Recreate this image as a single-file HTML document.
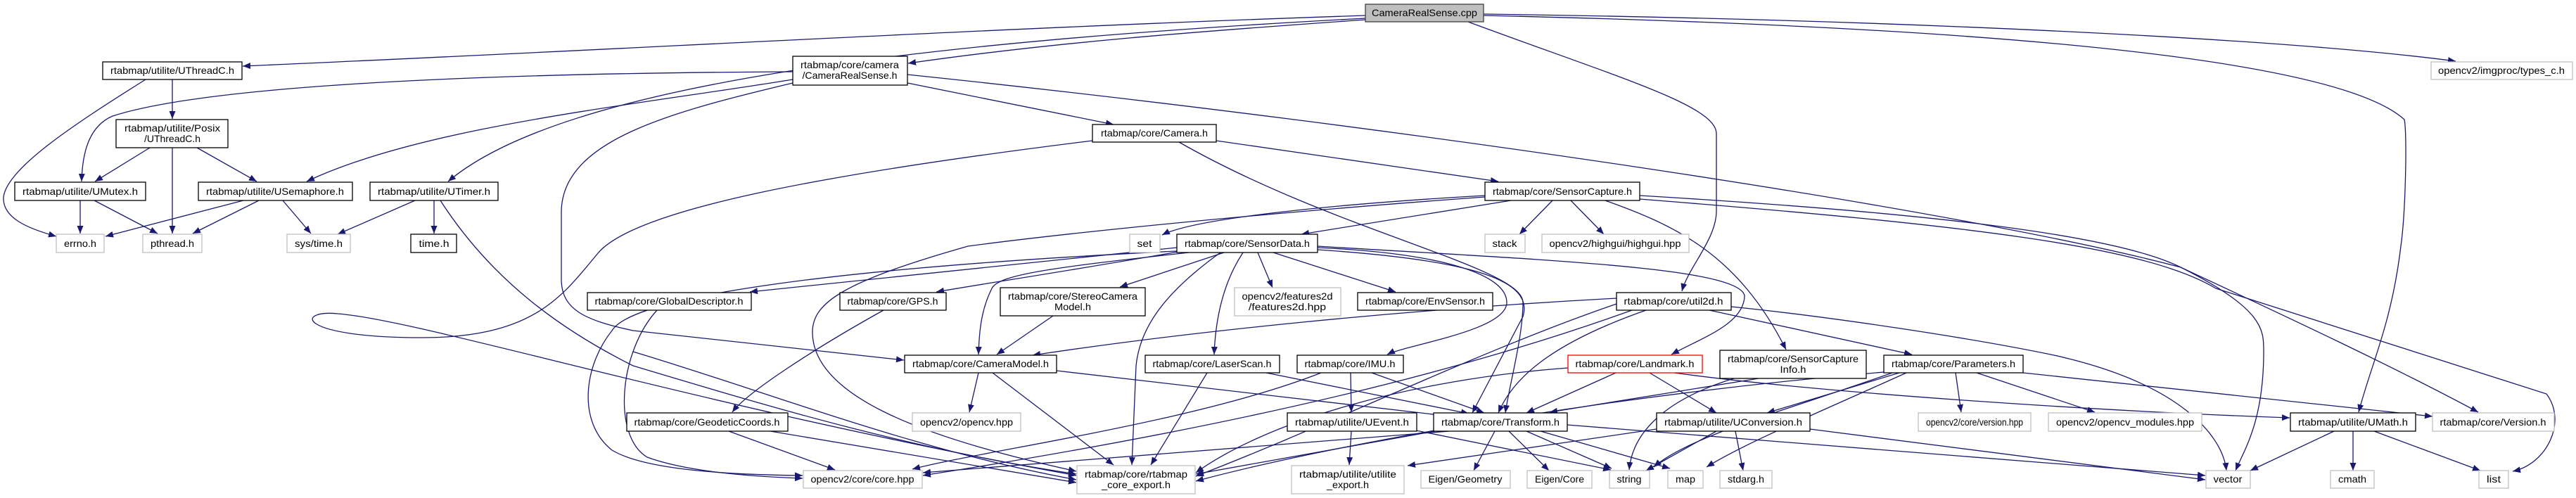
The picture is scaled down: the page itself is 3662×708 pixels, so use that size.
<!DOCTYPE html>
<html><head><meta charset="utf-8"><style>
html,body{margin:0;padding:0;background:#fff;}
svg{display:block;}
text{font-family:"Liberation Sans",sans-serif;font-size:14px;fill:#000;text-anchor:middle;}
.e{fill:none;stroke:#191970;stroke-width:1.3;marker-end:url(#a);}
.b{fill:#fff;stroke:#000;stroke-width:1.3;}
.g{fill:#fff;stroke:#bfbfbf;stroke-width:1.3;}
</style></head><body>
<svg width="3662" height="708" viewBox="0 0 3662 708" xmlns="http://www.w3.org/2000/svg">
<defs><marker id="a" markerWidth="12" markerHeight="10" refX="11" refY="4.5" orient="auto" markerUnits="userSpaceOnUse"><path d="M0,0 L11,4.5 L0,9 z" fill="#191970"/></marker></defs>
<g>
<path class="e" d="M1941,22 C1400,40 900,70 345,94"/>
<path class="e" d="M1941,28 C1700,45 1500,60 1291,90"/>
<path class="e" d="M1941,26 C1300,60 800,120 637,258"/>
<path class="e" d="M2087,31 C2300,110 2440,150 2440,190 L2440,300 C2440,340 2400,380 2391,414"/>
<path class="e" d="M2109,20 C2700,28 3250,55 3491,87"/>
<path class="e" d="M2109,22 C2900,40 3330,90 3418,170 C3422,190 3420,300 3413,350 C3400,460 3370,520 3353,586"/>
<path class="e" d="M1127,102 C700,104 300,120 160,165 C125,180 117,220 116,258"/>
<path class="e" d="M1127,113 C900,150 600,180 436,258"/>
<path class="e" d="M1290,118 L1583,177"/>
<path class="e" d="M1127,118 C950,160 800,200 798,300 L798,400 C800,440 830,455 900,470 L1285,512"/>
<path class="e" d="M1553,200 C1150,250 900,300 850,360 C800,420 760,480 600,480 C420,480 420,440 480,446 C600,455 1000,580 1530,676"/>
<path class="e" d="M1729,200 L2130,258"/>
<path class="e" d="M1676,202 C1900,330 2165,380 2165,430 C2165,480 2145,550 2140,587"/>
<path class="e" d="M2111,278 C1900,290 1700,310 1652,334"/>
<path class="e" d="M2148,285 L1850,333"/>
<path class="e" d="M2207,285 L2160,333"/>
<path class="e" d="M2233,285 L2280,333"/>
<path class="e" d="M2282,285 C2380,320 2470,360 2539,497"/>
<path class="e" d="M2461,436 C2600,450 2800,480 2920,505 C3100,545 3160,620 3165,669"/>
<path class="e" d="M2331,278 C2700,300 3000,330 3100,380 C3220,440 3218,470 3218,500 C3218,600 3190,640 3178,669"/>
<path class="e" d="M1290,106 C2000,180 2800,300 3100,380 C3250,450 3400,520 3523,586"/>
<path class="e" d="M2331,283 C2800,320 3050,350 3150,410 L3620,560 C3650,600 3620,660 3572,670"/>
<path class="e" d="M2111,280 C1700,310 1450,340 1376,350 C1200,400 1155,430 1155,472 C1155,560 1300,620 1530,670"/>
<path class="e" d="M1673,352 C1400,380 1200,400 1066,415"/>
<path class="e" d="M1680,357 C1550,380 1420,400 1331,415"/>
<path class="e" d="M1740,359 L1592,408"/>
<path class="e" d="M1690,359 C1500,380 1420,390 1410,410 C1395,440 1392,470 1391,504"/>
<path class="e" d="M1497,449 L1417,504"/>
<path class="e" d="M1788,359 L1809,409"/>
<path class="e" d="M1810,359 L1984,415"/>
<path class="e" d="M1767,359 C1740,400 1728,450 1726,504"/>
<path class="e" d="M1873,352 C2050,360 2142,390 2142,430 C2142,470 2000,490 1972,504"/>
<path class="e" d="M1873,355 C2100,370 2180,400 2165,450 L2093,587"/>
<path class="e" d="M1873,350 C2200,370 2470,380 2480,420 C2480,460 2420,480 2376,504"/>
<path class="e" d="M1735,359 C1650,420 1620,470 1615,520 L1609,661"/>
<path class="e" d="M1673,357 C1200,380 900,420 870,470 C830,520 820,600 870,640 C920,670 1050,675 1141,676"/>
<path class="e" d="M934,441 C880,500 870,620 920,650 C980,672 1080,678 1141,680"/>
<path class="e" d="M900,500 C1100,560 1300,640 1530,682"/>
<path class="e" d="M1256,441 C1150,500 1060,560 1041,586"/>
<path class="e" d="M1036,613 L1187,668"/>
<path class="e" d="M1095,613 L1530,686"/>
<path class="e" d="M1391,530 L1378,586"/>
<path class="e" d="M1411,530 L1583,661"/>
<path class="e" d="M1502,527 L2063,592"/>
<path class="e" d="M1716,530 L1636,661"/>
<path class="e" d="M1800,530 L2088,588"/>
<path class="e" d="M1920,530 L1921,586"/>
<path class="e" d="M1950,530 L2110,587"/>
<path class="e" d="M1878,530 C1700,600 1400,640 1297,667"/>
<path class="e" d="M2298,424 C2000,440 1700,470 1468,505"/>
<path class="e" d="M2340,441 C2200,490 2150,540 2130,587"/>
<path class="e" d="M2320,441 C2100,520 1800,600 1312,676"/>
<path class="e" d="M2430,441 L2718,504"/>
<path class="e" d="M2298,432 C2100,500 1900,600 1700,677"/>
<path class="e" d="M2297,530 L2170,587"/>
<path class="e" d="M2345,530 L2440,587"/>
<path class="e" d="M2229,523 C2000,540 1800,600 1700,672"/>
<path class="e" d="M2380,530 C2600,560 3000,585 3255,594"/>
<path class="e" d="M2500,538 L2203,586"/>
<path class="e" d="M2465,538 C2360,570 2320,620 2316,668"/>
<path class="e" d="M2700,530 L2512,587"/>
<path class="e" d="M2690,530 C2550,580 2400,620 2351,664"/>
<path class="e" d="M2710,530 C2600,580 2480,630 2426,664"/>
<path class="e" d="M2780,530 L2788,586"/>
<path class="e" d="M2810,530 L2978,586"/>
<path class="e" d="M2876,530 L3458,592"/>
<path class="e" d="M2690,528 C2300,560 1900,630 1700,684"/>
<path class="e" d="M2125,613 L2095,669"/>
<path class="e" d="M2145,613 L2202,669"/>
<path class="e" d="M2170,613 L2291,666"/>
<path class="e" d="M2190,613 L2374,666"/>
<path class="e" d="M2228,604 L3135,676"/>
<path class="e" d="M2060,613 L1312,672"/>
<path class="e" d="M2040,613 L1700,674"/>
<path class="e" d="M1921,613 L1918,661"/>
<path class="e" d="M2013,612 L2290,668"/>
<path class="e" d="M2440,613 L2340,669"/>
<path class="e" d="M2467,613 L2478,669"/>
<path class="e" d="M2573,610 L3135,682"/>
<path class="e" d="M2355,610 L2001,662"/>
<path class="e" d="M3318,613 L3199,669"/>
<path class="e" d="M3345,613 L3345,669"/>
<path class="e" d="M3375,613 L3526,669"/>
<path class="e" d="M590,285 L480,333"/>
<path class="e" d="M617,285 L617,332"/>
<path class="e" d="M626,285 C700,400 800,470 900,520 C1100,580 1300,640 1530,674"/>
<path class="e" d="M346,285 L150,336"/>
<path class="e" d="M368,285 L274,332"/>
<path class="e" d="M402,285 L442,332"/>
<path class="e" d="M114,285 L114,332"/>
<path class="e" d="M134,285 L224,332"/>
<path class="e" d="M213,210 L135,258"/>
<path class="e" d="M245,210 L245,332"/>
<path class="e" d="M280,210 L365,258"/>
<path class="e" d="M245,113 L245,169"/>
<path class="e" d="M207,113 C100,180 10,240 5,280 C3,310 40,325 80,336"/>
</g>
<g>
<rect x="1941" y="6" width="168" height="25" fill="#bfbfbf" stroke="#404040" stroke-width="1.3"/><text x="2025" y="23" textLength="150" lengthAdjust="spacingAndGlyphs">CameraRealSense.cpp</text>
<rect class="b" x="146" y="88" width="198" height="25"/><text x="245" y="105" textLength="176" lengthAdjust="spacingAndGlyphs">rtabmap/utilite/UThreadC.h</text>
<rect class="b" x="1127" y="80" width="163" height="41"/><text x="1208" y="97" textLength="140" lengthAdjust="spacingAndGlyphs">rtabmap/core/camera</text><text x="1208" y="112" textLength="135" lengthAdjust="spacingAndGlyphs">/CameraRealSense.h</text>
<rect class="g" x="3456" y="88" width="201" height="25"/><text x="3556" y="105" textLength="180" lengthAdjust="spacingAndGlyphs">opencv2/imgproc/types_c.h</text>
<rect class="b" x="165" y="170" width="159" height="40"/><text x="245" y="187" textLength="136" lengthAdjust="spacingAndGlyphs">rtabmap/utilite/Posix</text><text x="245" y="202" textLength="80" lengthAdjust="spacingAndGlyphs">/UThreadC.h</text>
<rect class="b" x="1553" y="177" width="176" height="25"/><text x="1641" y="194" textLength="152" lengthAdjust="spacingAndGlyphs">rtabmap/core/Camera.h</text>
<rect class="b" x="21" y="259" width="186" height="26"/><text x="114" y="277" textLength="164" lengthAdjust="spacingAndGlyphs">rtabmap/utilite/UMutex.h</text>
<rect class="b" x="282" y="259" width="219" height="26"/><text x="391" y="277" textLength="196" lengthAdjust="spacingAndGlyphs">rtabmap/utilite/USemaphore.h</text>
<rect class="b" x="526" y="259" width="182" height="26"/><text x="617" y="277" textLength="160" lengthAdjust="spacingAndGlyphs">rtabmap/utilite/UTimer.h</text>
<rect class="b" x="2111" y="259" width="220" height="26"/><text x="2221" y="277" textLength="198" lengthAdjust="spacingAndGlyphs">rtabmap/core/SensorCapture.h</text>
<rect class="g" x="80" y="333" width="68" height="26"/><text x="114" y="351" textLength="46" lengthAdjust="spacingAndGlyphs">errno.h</text>
<rect class="g" x="203" y="333" width="84" height="26"/><text x="245" y="351" textLength="62" lengthAdjust="spacingAndGlyphs">pthread.h</text>
<rect class="g" x="408" y="333" width="90" height="26"/><text x="453" y="351" textLength="68" lengthAdjust="spacingAndGlyphs">sys/time.h</text>
<rect class="b" x="584" y="333" width="65" height="26"/><text x="617" y="351" textLength="43" lengthAdjust="spacingAndGlyphs">time.h</text>
<rect class="g" x="1606" y="333" width="43" height="26"/><text x="1627" y="351" textLength="21" lengthAdjust="spacingAndGlyphs">set</text>
<rect class="b" x="1673" y="333" width="200" height="26"/><text x="1773" y="351" textLength="178" lengthAdjust="spacingAndGlyphs">rtabmap/core/SensorData.h</text>
<rect class="g" x="2111" y="333" width="57" height="26"/><text x="2139" y="351" textLength="35" lengthAdjust="spacingAndGlyphs">stack</text>
<rect class="g" x="2192" y="333" width="209" height="26"/><text x="2296" y="351" textLength="187" lengthAdjust="spacingAndGlyphs">opencv2/highgui/highgui.hpp</text>
<rect class="b" x="835" y="416" width="233" height="25"/><text x="951" y="433" textLength="211" lengthAdjust="spacingAndGlyphs">rtabmap/core/GlobalDescriptor.h</text>
<rect class="b" x="1194" y="416" width="151" height="25"/><text x="1269" y="433" textLength="129" lengthAdjust="spacingAndGlyphs">rtabmap/core/GPS.h</text>
<rect class="b" x="1422" y="409" width="206" height="40"/><text x="1525" y="426" textLength="184" lengthAdjust="spacingAndGlyphs">rtabmap/core/StereoCamera</text><text x="1525" y="441" textLength="52" lengthAdjust="spacingAndGlyphs">Model.h</text>
<rect class="g" x="1755" y="409" width="151" height="40"/><text x="1830" y="426" textLength="129" lengthAdjust="spacingAndGlyphs">opencv2/features2d</text><text x="1830" y="441" textLength="110" lengthAdjust="spacingAndGlyphs">/features2d.hpp</text>
<rect class="b" x="1930" y="416" width="192" height="25"/><text x="2026" y="433" textLength="170" lengthAdjust="spacingAndGlyphs">rtabmap/core/EnvSensor.h</text>
<rect class="b" x="2298" y="416" width="163" height="25"/><text x="2379" y="433" textLength="141" lengthAdjust="spacingAndGlyphs">rtabmap/core/util2d.h</text>
<rect class="b" x="1286" y="505" width="216" height="25"/><text x="1394" y="522" textLength="194" lengthAdjust="spacingAndGlyphs">rtabmap/core/CameraModel.h</text>
<rect class="b" x="1628" y="505" width="191" height="25"/><text x="1723" y="522" textLength="169" lengthAdjust="spacingAndGlyphs">rtabmap/core/LaserScan.h</text>
<rect class="b" x="1844" y="505" width="151" height="25"/><text x="1919" y="522" textLength="129" lengthAdjust="spacingAndGlyphs">rtabmap/core/IMU.h</text>
<rect x="2229" y="505" width="191" height="25" fill="#fff" stroke="#ff0000" stroke-width="1.3"/><text x="2324" y="522" textLength="169" lengthAdjust="spacingAndGlyphs">rtabmap/core/Landmark.h</text>
<rect class="b" x="2445" y="498" width="208" height="40"/><text x="2549" y="515" textLength="186" lengthAdjust="spacingAndGlyphs">rtabmap/core/SensorCapture</text><text x="2549" y="530" textLength="37" lengthAdjust="spacingAndGlyphs">Info.h</text>
<rect class="b" x="2678" y="505" width="198" height="25"/><text x="2777" y="522" textLength="176" lengthAdjust="spacingAndGlyphs">rtabmap/core/Parameters.h</text>
<rect class="b" x="891" y="587" width="229" height="26"/><text x="1005" y="605" textLength="207" lengthAdjust="spacingAndGlyphs">rtabmap/core/GeodeticCoords.h</text>
<rect class="g" x="1297" y="587" width="154" height="26"/><text x="1374" y="605" textLength="132" lengthAdjust="spacingAndGlyphs">opencv2/opencv.hpp</text>
<rect class="b" x="1830" y="587" width="184" height="26"/><text x="1922" y="605" textLength="162" lengthAdjust="spacingAndGlyphs">rtabmap/utilite/UEvent.h</text>
<rect class="b" x="2038" y="587" width="190" height="26"/><text x="2133" y="605" textLength="168" lengthAdjust="spacingAndGlyphs">rtabmap/core/Transform.h</text>
<rect class="b" x="2355" y="587" width="218" height="26"/><text x="2464" y="605" textLength="196" lengthAdjust="spacingAndGlyphs">rtabmap/utilite/UConversion.h</text>
<rect class="g" x="2727" y="587" width="160" height="26"/><text x="2807" y="605" textLength="138" lengthAdjust="spacingAndGlyphs">opencv2/core/version.hpp</text>
<rect class="g" x="2912" y="587" width="218" height="26"/><text x="3021" y="605" textLength="196" lengthAdjust="spacingAndGlyphs">opencv2/opencv_modules.hpp</text>
<rect class="b" x="3256" y="587" width="178" height="26"/><text x="3345" y="605" textLength="156" lengthAdjust="spacingAndGlyphs">rtabmap/utilite/UMath.h</text>
<rect class="g" x="3458" y="587" width="173" height="26"/><text x="3544" y="605" textLength="151" lengthAdjust="spacingAndGlyphs">rtabmap/core/Version.h</text>
<rect class="g" x="1142" y="669" width="169" height="25"/><text x="1226" y="686" textLength="147" lengthAdjust="spacingAndGlyphs">opencv2/core/core.hpp</text>
<rect class="g" x="1531" y="662" width="168" height="40"/><text x="1615" y="679" textLength="146" lengthAdjust="spacingAndGlyphs">rtabmap/core/rtabmap</text><text x="1615" y="694" textLength="98" lengthAdjust="spacingAndGlyphs">_core_export.h</text>
<rect class="g" x="1836" y="662" width="160" height="40"/><text x="1916" y="679" textLength="138" lengthAdjust="spacingAndGlyphs">rtabmap/utilite/utilite</text><text x="1916" y="694" textLength="60" lengthAdjust="spacingAndGlyphs">_export.h</text>
<rect class="g" x="2020" y="669" width="127" height="25"/><text x="2083" y="686" textLength="105" lengthAdjust="spacingAndGlyphs">Eigen/Geometry</text>
<rect class="g" x="2171" y="669" width="92" height="25"/><text x="2217" y="686" textLength="70" lengthAdjust="spacingAndGlyphs">Eigen/Core</text>
<rect class="g" x="2288" y="669" width="57" height="25"/><text x="2316" y="686" textLength="35" lengthAdjust="spacingAndGlyphs">string</text>
<rect class="g" x="2371" y="669" width="50" height="25"/><text x="2396" y="686" textLength="28" lengthAdjust="spacingAndGlyphs">map</text>
<rect class="g" x="2445" y="669" width="74" height="25"/><text x="2482" y="686" textLength="52" lengthAdjust="spacingAndGlyphs">stdarg.h</text>
<rect class="g" x="3136" y="669" width="63" height="25"/><text x="3167" y="686" textLength="41" lengthAdjust="spacingAndGlyphs">vector</text>
<rect class="g" x="3313" y="669" width="62" height="25"/><text x="3344" y="686" textLength="40" lengthAdjust="spacingAndGlyphs">cmath</text>
<rect class="g" x="3524" y="669" width="42" height="25"/><text x="3545" y="686" textLength="20" lengthAdjust="spacingAndGlyphs">list</text>
</g>
</svg>
</body></html>
